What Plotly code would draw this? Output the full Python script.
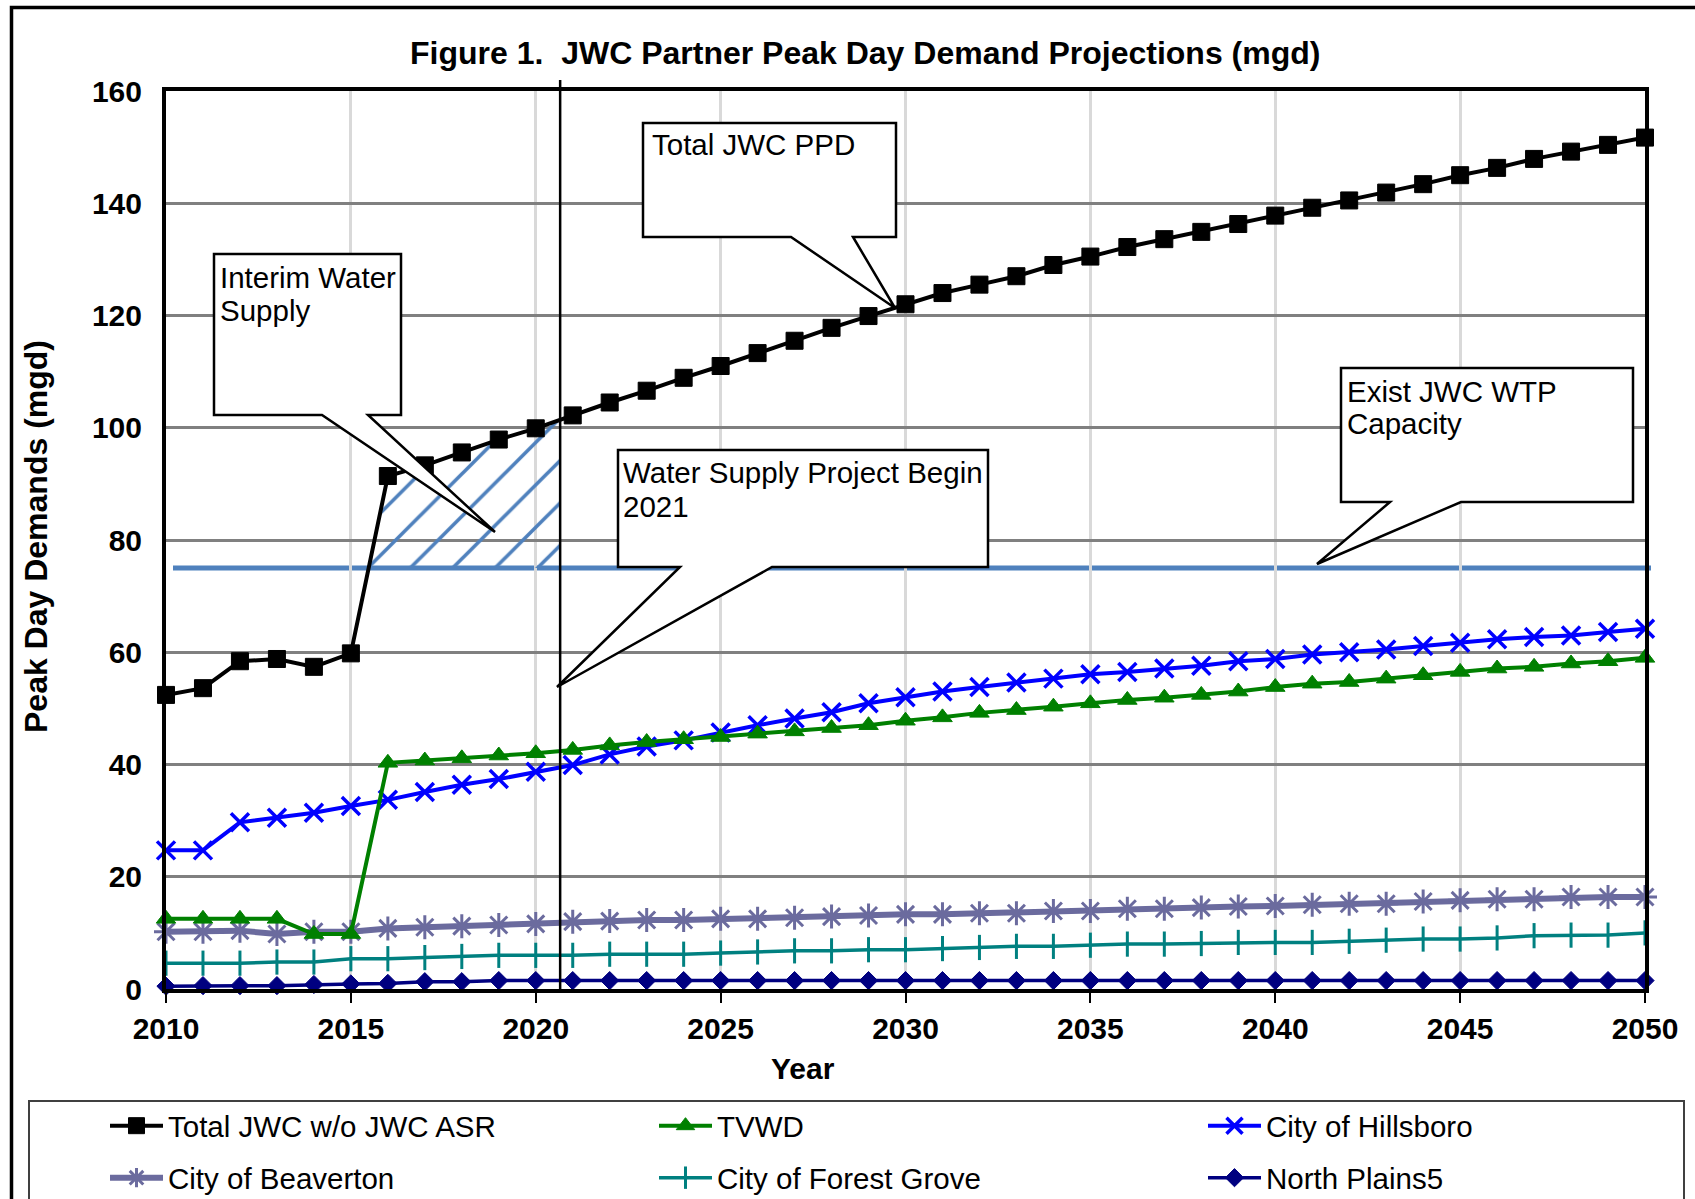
import numpy as np
import plotly.graph_objects as go

# ---------------- data ----------------
YEARS = list(range(2010, 2051))

TOTAL_JWC = [52.4, 53.6, 58.4, 58.8, 57.4, 59.8, 91.4, 93.3, 95.6, 97.9,
             99.9, 102.2, 104.5, 106.6, 108.9, 111.0, 113.3, 115.5, 117.8, 119.9,
             122.0, 124.0, 125.5, 127.0, 129.0, 130.5, 132.2, 133.6, 134.9, 136.3,
             137.8, 139.2, 140.5, 141.9, 143.4, 145.0, 146.3, 147.9, 149.2, 150.4,
             151.7]
TVWD = [12.5, 12.5, 12.5, 12.5, 9.8, 9.8, 40.3, 40.7, 41.1, 41.6,
        42.0, 42.6, 43.4, 44.0, 44.5, 44.9, 45.5, 45.9, 46.5, 47.0,
        47.8, 48.4, 49.2, 49.7, 50.3, 50.9, 51.5, 51.9, 52.4, 53.0,
        53.8, 54.4, 54.7, 55.3, 55.9, 56.5, 57.1, 57.4, 58.0, 58.4,
        59.0]
HILLSBORO = [24.7, 24.7, 29.7, 30.5, 31.4, 32.6, 33.7, 35.1, 36.4, 37.4,
             38.7, 39.9, 41.8, 43.2, 44.3, 45.7, 47.0, 48.2, 49.3, 50.9,
             52.0, 53.0, 53.8, 54.6, 55.3, 56.1, 56.5, 57.1, 57.6, 58.4,
             58.8, 59.6, 60.0, 60.5, 61.1, 61.7, 62.3, 62.7, 63.0, 63.6,
             64.2]
BEAVERTON = [10.2, 10.2, 10.4, 9.8, 10.2, 10.2, 10.8, 11.0, 11.2, 11.4,
             11.6, 12.0, 12.1, 12.3, 12.3, 12.5, 12.5, 12.7, 12.9, 13.1,
             13.3, 13.3, 13.5, 13.5, 13.9, 13.9, 14.3, 14.3, 14.5, 14.7,
             14.8, 15.0, 15.2, 15.2, 15.6, 15.8, 16.0, 16.0, 16.4, 16.4,
             16.4]
FOREST_GROVE = [4.6, 4.6, 4.6, 4.8, 4.8, 5.4, 5.4, 5.6, 5.8, 6.0,
                6.0, 6.0, 6.2, 6.2, 6.2, 6.4, 6.6, 6.8, 6.8, 7.0,
                7.0, 7.2, 7.4, 7.6, 7.6, 7.8, 8.0, 8.0, 8.1, 8.3,
                8.3, 8.3, 8.5, 8.7, 8.9, 8.9, 9.1, 9.5, 9.6, 9.6,
                10.0]
NORTH_PLAINS = [0.5, 0.6, 0.6, 0.6, 0.8, 0.9, 1.0, 1.3, 1.3, 1.5,
                1.5, 1.5, 1.5, 1.5, 1.5, 1.5, 1.5, 1.5, 1.5, 1.5,
                1.5, 1.5, 1.5, 1.5, 1.5, 1.5, 1.5, 1.5, 1.5, 1.5,
                1.5, 1.5, 1.5, 1.5, 1.5, 1.5, 1.5, 1.5, 1.5, 1.5,
                1.5]

CAPACITY = 75            # Exist JWC WTP capacity (mgd)
PROJECT_START = 2020.66  # Water supply project begin marker

SERIES_NAMES = ["Total JWC w/o JWC ASR", "TVWD", "City of Hillsboro",
                "City of Beaverton", "City of Forest Grove", "North Plains5"]
X_TICKS = [2010, 2015, 2020, 2025, 2030, 2035, 2040, 2045, 2050]
Y_TICKS = [0, 20, 40, 60, 80, 100, 120, 140, 160]

TITLE = "Figure 1.  JWC Partner Peak Day Demand Projections (mgd)"

# ---------------- layout geometry (pixels) ----------------
W, H = 1695, 1199
L, R, T, B = 166, 1645, 91, 989
PW, PH = R - L, B - T


def px(x):
    return (x - L) / PW


def py(y):
    return (B - y) / PH


FONT = "Arial, 'Liberation Sans', sans-serif"

fig = go.Figure()

# ---------------- hatched interim supply region ----------------
yrs = np.array(YEARS, dtype=float)
tot = np.array(TOTAL_JWC, dtype=float)
i0 = int(np.argmax(tot > CAPACITY))
x_cross = yrs[i0 - 1] + (CAPACITY - tot[i0 - 1]) / (tot[i0] - tot[i0 - 1])
mask = (yrs > x_cross) & (yrs < PROJECT_START)
poly_x = [x_cross] + list(yrs[mask]) + [PROJECT_START, PROJECT_START, x_cross]
poly_y = [CAPACITY] + list(tot[mask]) + [float(np.interp(PROJECT_START, yrs, tot)),
                                         CAPACITY, CAPACITY]
fig.add_trace(go.Scatter(
    x=poly_x, y=poly_y, mode="lines", fill="toself",
    fillcolor="rgba(255,255,255,0)",
    fillpattern=dict(shape="/", fgcolor="#4F81BD", bgcolor="rgba(255,255,255,0)",
                     size=30, solidity=0.12, fgopacity=1),
    line=dict(width=0, color="rgba(0,0,0,0)"),
    showlegend=False, hoverinfo="skip"))

# ---------------- series ----------------
styles = [
    dict(data=NORTH_PLAINS, color="#000080", width=3.5, symbol="diamond", size=14,
         mline=dict(width=1, color="#000080"), legend="legend2", order=5),
    dict(data=FOREST_GROVE, color="#008080", width=3.5, symbol="line-ns-open", size=18,
         mline=dict(width=3, color="#008080"), legend="legend2", order=4),
    dict(data=BEAVERTON, color="#6B6B9E", width=6, symbol="asterisk-open", size=20,
         mline=dict(width=3, color="#7A7AB0"), legend="legend2", order=3),
    dict(data=HILLSBORO, color="#0000FF", width=4, symbol="x-thin-open", size=18,
         mline=dict(width=3.5, color="#0000FF"), legend="legend", order=2),
    dict(data=TVWD, color="#008000", width=4, symbol="triangle-up", size=17,
         mline=dict(width=1, color="#008000"), legend="legend", order=1),
    dict(data=TOTAL_JWC, color="#000000", width=4, symbol="square", size=17,
         mline=dict(width=1, color="#000000"), legend="legend", order=0),
]
for st in styles:
    fig.add_trace(go.Scatter(
        x=YEARS, y=st["data"], mode="lines+markers", name=SERIES_NAMES[st["order"]],
        line=dict(color=st["color"], width=st["width"]),
        marker=dict(symbol=st["symbol"], size=st["size"], color=st["color"],
                    line=st["mline"]),
        legend=st["legend"], legendrank=st["order"], cliponaxis=False))

# ---------------- shapes ----------------
shapes = []
shapes.append(dict(type="path", xref="paper", yref="paper", layer="above",
                   path=f"M{px(11.5)},{py(1215)} L{px(11.5)},{py(7.5)} L{px(1710)},{py(7.5)}",
                   line=dict(color="black", width=3.5)))
shapes.append(dict(type="path", xref="paper", yref="paper", layer="above",
                   path=f"M{px(29)},{py(1215)} L{px(29)},{py(1101)} L{px(1684)},{py(1101)} L{px(1684)},{py(1215)}",
                   line=dict(color="#404040", width=2)))
shapes.append(dict(type="line", xref="paper", yref="y", layer="between",
                   x0=px(173), x1=px(1651), y0=CAPACITY, y1=CAPACITY,
                   line=dict(color="#4F81BD", width=5)))
shapes.append(dict(type="line", xref="x", yref="paper", layer="above",
                   x0=PROJECT_START, x1=PROJECT_START, y0=0, y1=py(80),
                   line=dict(color="black", width=2.5)))


def callout(box, base, tip):
    x0, y0, x1, y1 = box
    b0, b1 = base
    tx, ty = tip
    pts = [(x0, y0), (x1, y0), (x1, y1), (b1, y1), (tx, ty), (b0, y1), (x0, y1)]
    path = "M" + " L".join(f"{px(a)},{py(b)}" for a, b in pts) + " Z"
    return dict(type="path", xref="paper", yref="paper", layer="above", path=path,
                fillcolor="white", line=dict(color="black", width=2.5))


shapes.append(callout((214, 254, 401, 415), (322, 368), (495, 532)))
shapes.append(callout((643, 123, 896, 237), (791, 853), (895, 308)))
shapes.append(callout((618, 450, 988, 567), (680, 772), (557, 687)))
shapes.append(callout((1341, 368, 1633, 502), (1390, 1461), (1317, 564)))

# ---------------- annotations ----------------
annotations = []
CALLOUT_FS = 29.5


def text_at(text, left, baseline, size=CALLOUT_FS, bold=False, anchor="left"):
    return dict(text=text, xref="paper", yref="paper", showarrow=False,
                x=px(left - 3) if anchor == "left" else px(left),
                y=py(baseline - 2 - 0.905 * size),
                xanchor=anchor, yanchor="top",
                font=dict(family=FONT, size=size, color="black",
                          weight="bold" if bold else "normal"))


for txt, lx, bl in [("Interim Water", 221, 288), ("Supply", 221, 321),
                    ("Total JWC PPD", 653, 155),
                    ("Water Supply Project Begin", 624, 483), ("2021", 624, 517),
                    ("Exist JWC WTP", 1348, 402), ("Capacity", 1348, 434)]:
    annotations.append(text_at(txt, lx, bl))

annotations.append(text_at(TITLE, 865, 64, size=32, bold=True, anchor="center"))
annotations.append(text_at("Year", 803, 1079, size=30, bold=True, anchor="center"))
annotations.append(dict(text="Peak Day Demands (mgd)", xref="paper", yref="paper",
                        showarrow=False, x=px(36), y=py(537), xanchor="center",
                        yanchor="middle", textangle=-90,
                        font=dict(family=FONT, size=32, color="black", weight="bold")))

tickfont = dict(family=FONT, size=30, color="black", weight="bold")
legfont = dict(family=FONT, size=29.5, color="black")

ITEMW = 53
ENTRYW = 549 - ITEMW - 15

fig.update_layout(
    width=W, height=H,
    margin=dict(l=L, r=W - R, t=T, b=H - B, pad=0, autoexpand=False),
    paper_bgcolor="white", plot_bgcolor="white",
    showlegend=True,
    xaxis=dict(range=[2010, 2050], tickmode="array", tickvals=X_TICKS,
               ticktext=[str(v) for v in X_TICKS],
               showgrid=True, gridcolor="#D9D9D9", gridwidth=3,
               showline=True, linecolor="black", linewidth=4, mirror=True,
               ticks="outside", ticklen=10, tickwidth=2, tickcolor="black",
               tickfont=tickfont, zeroline=False, ticklabelstandoff=0),
    yaxis=dict(range=[0, 160], tickmode="array", tickvals=Y_TICKS,
               ticktext=[str(v) for v in Y_TICKS],
               showgrid=True, gridcolor="#808080", gridwidth=3,
               showline=True, linecolor="black", linewidth=4, mirror=True,
               ticks="", tickfont=tickfont, zeroline=False, ticklabelstandoff=14),
    legend=dict(orientation="h", x=px(105), y=py(1126), xanchor="left", yanchor="middle",
                entrywidth=ENTRYW, entrywidthmode="pixels", itemwidth=ITEMW,
                bgcolor="rgba(0,0,0,0)", borderwidth=0, font=legfont,
                traceorder="normal"),
    legend2=dict(orientation="h", x=px(105), y=py(1178), xanchor="left", yanchor="middle",
                 entrywidth=ENTRYW, entrywidthmode="pixels", itemwidth=ITEMW,
                 bgcolor="rgba(0,0,0,0)", borderwidth=0, font=legfont,
                 traceorder="normal"),
    shapes=shapes, annotations=annotations,
)

fig.write_html("out.html")
